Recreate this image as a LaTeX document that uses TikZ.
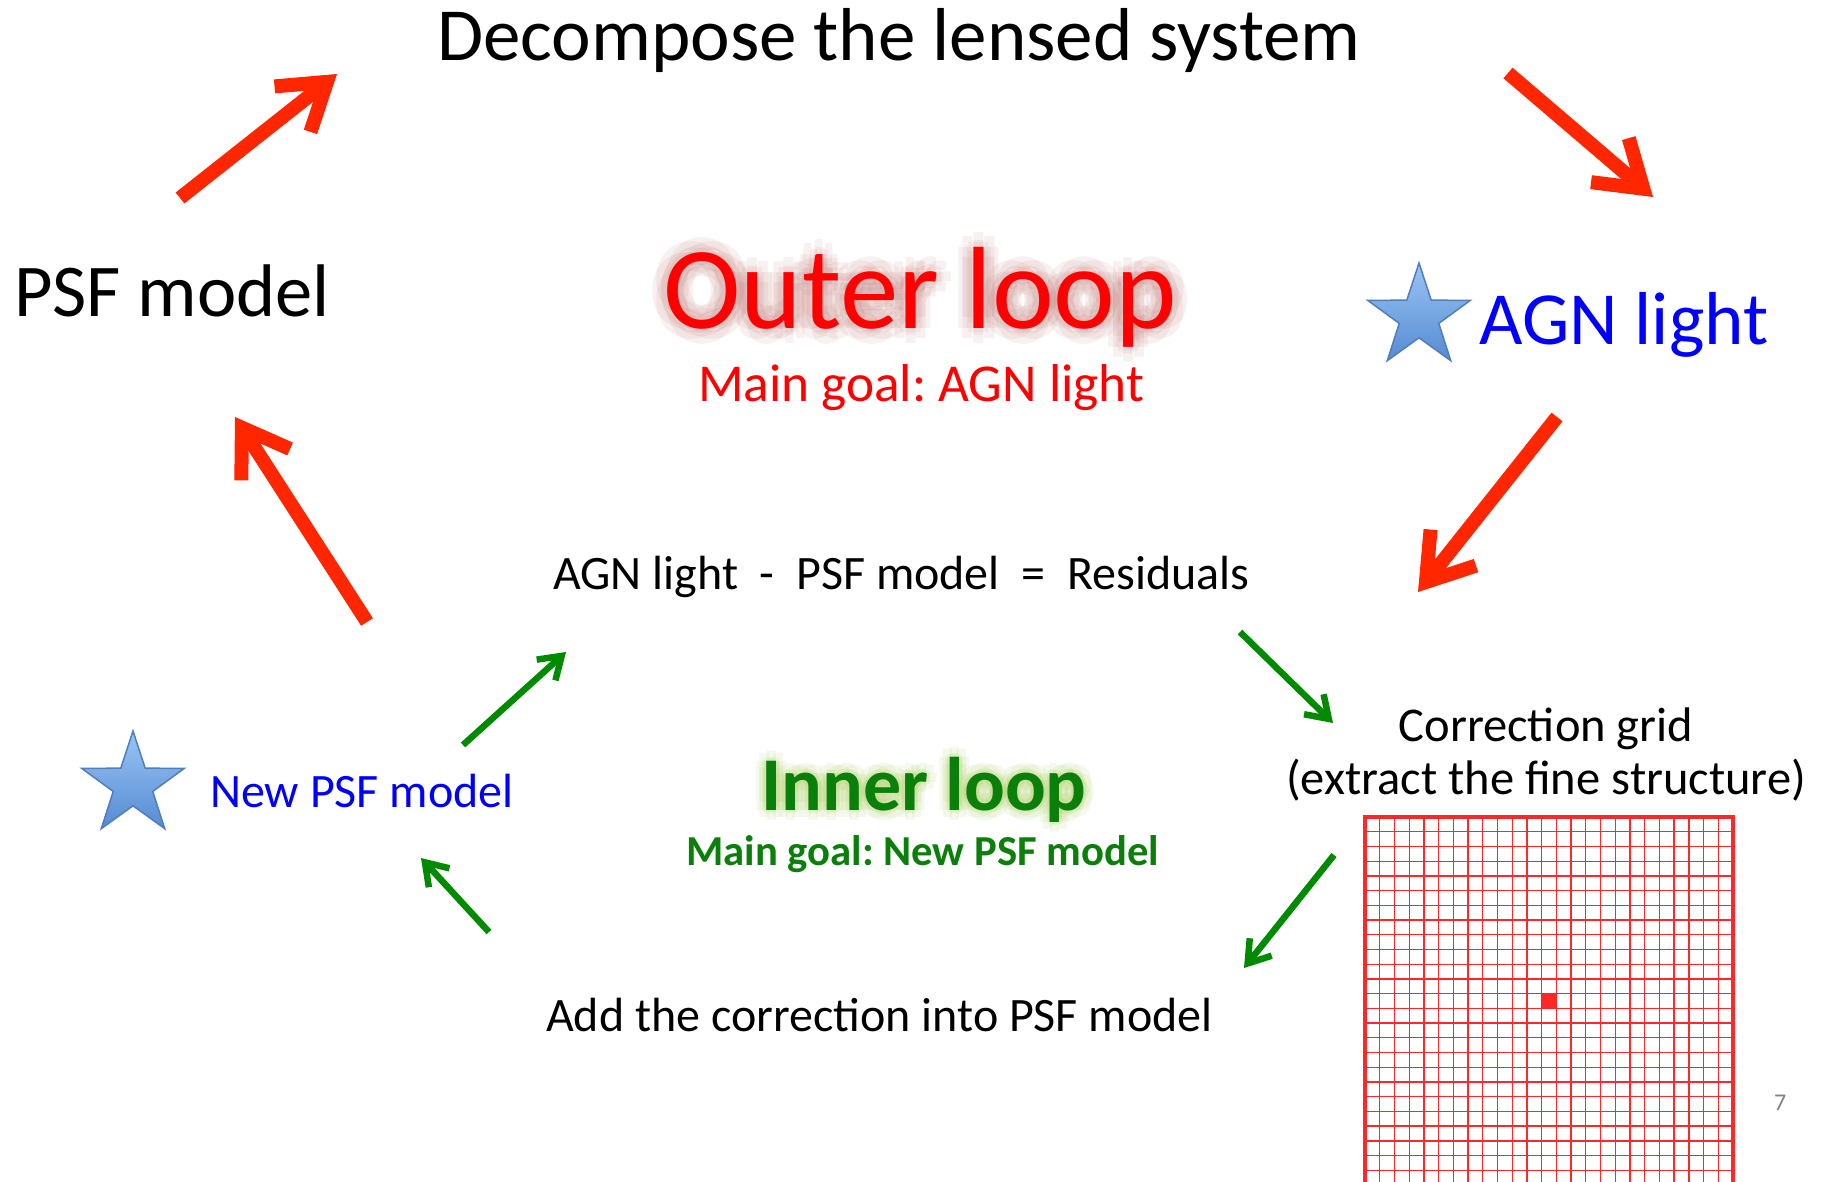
\documentclass[tikz,border=0pt]{standalone}
\usepackage{fontspec}
\setmainfont{Carlito}
\usetikzlibrary{arrows.meta,shapes.geometric}
\frenchspacing
\definecolor{arrowred}{RGB}{255,38,0}
\definecolor{arrowgreen}{RGB}{0,138,0}
\definecolor{textgreen}{RGB}{10,128,10}
\definecolor{gridred}{RGB}{255,40,40}
\definecolor{glowred}{RGB}{180,100,95}
\definecolor{glowgreen}{RGB}{160,200,80}
\definecolor{startop}{RGB}{155,196,244}
\definecolor{starbot}{RGB}{84,140,210}
\definecolor{starline}{RGB}{80,125,190}
\tikzstyle{txt} = [inner sep=0pt, anchor=base west]
\tikzstyle{bigarrow} = [draw=arrowred, line width=14pt, -{Straight Barb[length=44pt, width=58pt]}]
\tikzstyle{smallarrow} = [draw=arrowgreen, line width=6.5pt, -{Straight Barb[length=21pt, width=28pt]}]
\tikzstyle{agnstar} = [star, star points=5, star point ratio=2.6, minimum size=108pt, inner sep=0pt, top color=startop, bottom color=starbot, draw=starline, line width=1.5pt]
\tikzstyle{cell} = [draw=gridred, line width=1.3pt]

\begin{document}
\begin{tikzpicture}[x=1pt, y=-1pt]
\useasboundingbox (0,0) rectangle (1823,1181);

% outer loop texts
\node (decomp) [txt] at (437,60) {\fontsize{75}{80}\selectfont Decompose the lensed system};
\node (psf) [txt] at (14,316) {\fontsize{74.5}{80}\selectfont PSF model};
\node (agnstar) [agnstar] at (1419,317) {};
\node (agn) [txt, text=blue] at (1479,344) {\fontsize{75}{80}\selectfont AGN light};

\foreach \a in {0,45,...,315}
  \foreach \r in {7,15}
    \node [txt, text=glowred, text opacity=0.09] at ([shift={(\a:\r)}] 663,328) {\fontsize{117}{120}\selectfont Outer loop};
\node (outer) [txt, text=red] at (663,328) {\fontsize{117}{120}\selectfont Outer loop};
\node (outergoal) [txt, text=red] at (698,401) {\fontsize{53.3}{60}\selectfont Main goal: AGN light};

% inner loop texts
\node (resid) [txt] at (553,589) {\fontsize{48}{52}\selectfont AGN light~~-~~PSF model~~=~~Residuals};
\node (corr) [inner sep=0pt, anchor=base] at (1546,741) {\fontsize{48.5}{52}\selectfont Correction grid};
\node (extract) [inner sep=0pt, anchor=base] at (1546,794) {\fontsize{48.5}{52}\selectfont (extract the fine structure)};
\node (newstar) [agnstar] at (133,785) {};
\node (newpsf) [txt, text=blue] at (210,807) {\fontsize{48}{50}\selectfont New PSF model};
\node (addcorr) [txt] at (546,1031) {\fontsize{48}{52}\selectfont Add the correction into PSF model};

\foreach \a in {0,45,...,315}
  \foreach \r in {4,10}
    \node [txt, text=glowgreen, text opacity=0.1] at ([shift={(\a:\r)}] 761,810) {\fontsize{76}{80}\selectfont\bfseries Inner loop};
\node (inner) [txt, text=textgreen] at (761,810) {\fontsize{76}{80}\selectfont\bfseries Inner loop};
\node (innergoal) [txt, text=textgreen] at (686,865) {\fontsize{42.7}{46}\selectfont\bfseries Main goal: New PSF model};

\node (page) [txt, text=gray] at (1774,1110) {\fontsize{24}{26}\selectfont 7};

% arrow ends
\coordinate (r1a) at (180,198);   \coordinate (r1b) at (337,74);
\coordinate (r2a) at (1508,73);   \coordinate (r2b) at (1653,197);
\coordinate (r3a) at (1557,417);  \coordinate (r3b) at (1418,592);
\coordinate (r4a) at (367,622);   \coordinate (r4b) at (235,417);
\coordinate (g1a) at (463,745);   \coordinate (g1b) at (566,652);
\coordinate (g2a) at (1240,632);  \coordinate (g2b) at (1333,723);
\coordinate (g3a) at (1334,855);  \coordinate (g3b) at (1244,968);
\coordinate (g4a) at (489,932);   \coordinate (g4b) at (421,858);

% arrows
\draw[bigarrow] (r1a) -- (r1b);
\draw[bigarrow] (r2a) -- (r2b);
\draw[bigarrow] (r3a) -- (r3b);
\draw[bigarrow] (r4a) -- (r4b);
\draw[smallarrow] (g1a) -- (g1b);
\draw[smallarrow] (g2a) -- (g2b);
\draw[smallarrow] (g3a) -- (g3b);
\draw[smallarrow] (g4a) -- (g4b);

% correction grid
\begin{scope}
\clip (0,0) rectangle (1823,1181);
\foreach \i in {0,...,25} {
  \draw[cell] ({1365+\i*14.72},817) -- ({1365+\i*14.72},1190);
  \draw[cell] (1365,{817+\i*14.72}) -- (1733,{817+\i*14.72});
}
\fill[gridred] (1541.6,993.6) rectangle (1556.3,1008.3);
\draw[gridred, line width=4pt] (1365,1190) -- (1365,817) -- (1733,817) -- (1733,1190);
\end{scope}

\end{tikzpicture}
\end{document}
